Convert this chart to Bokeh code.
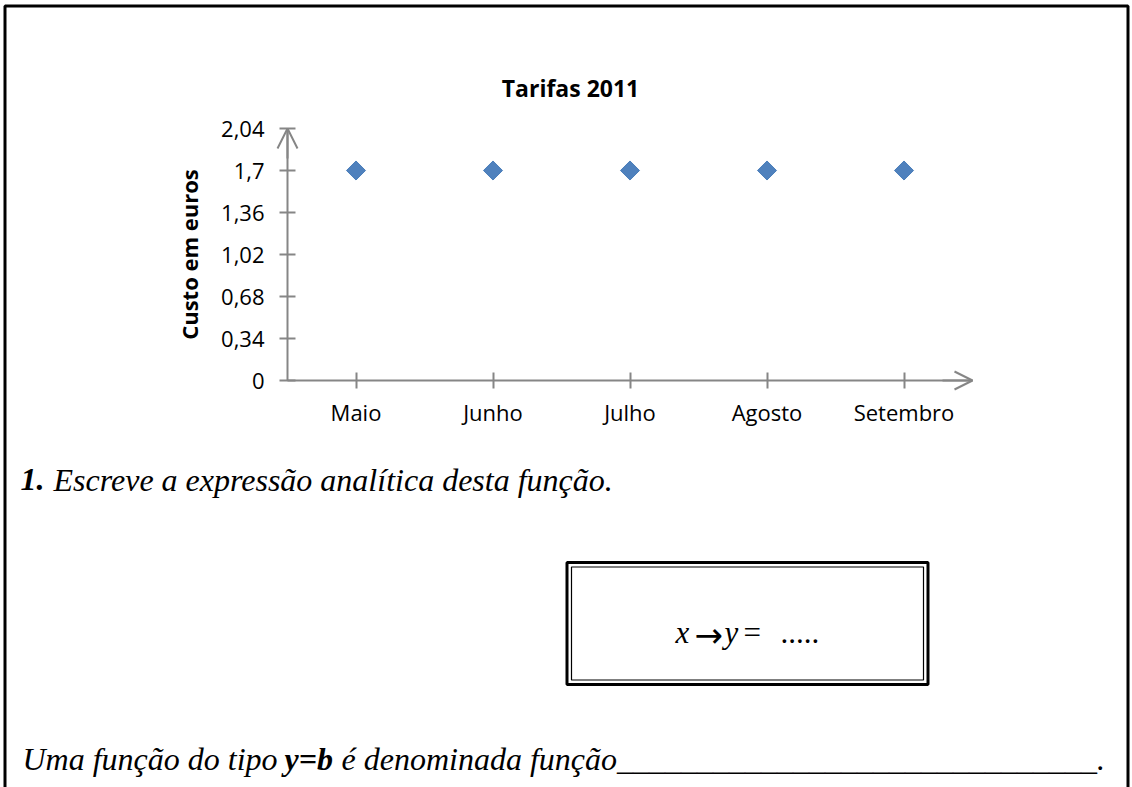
import math
from bokeh.plotting import figure
from bokeh.models import Range1d, FixedTicker, Label, BoxAnnotation, Arrow, OpenHead, LinearAxis
from bokeh.embed import file_html
from bokeh.resources import INLINE

# ---------------- data ----------------
chart_title = "Tarifas 2011"
months = ["Maio", "Junho", "Julho", "Agosto", "Setembro"]
cost = [1.7, 1.7, 1.7, 1.7, 1.7]
y_ticks = [0, 0.34, 0.68, 1.02, 1.36, 1.7, 2.04]
y_tick_labels = ["0", "0,34", "0,68", "1,02", "1,36", "1,7", "2,04"]
y_axis_label = "Custo em euros"
q_number = "1."
q_text = "Escreve a expressão analítica desta função."
box_parts = ["x", "\u2192", "y", "=", "....."]
final_a = "Uma função do tipo"
final_b = "y=b"
final_c = "é denominada função" + "_" * 30 + "."

# ---------------- layout (page pixels) ----------------
W, H = 1132, 787
FL, FR, FT, FB = 287, 972, 128, 380      # chart plot area
Y_MAX = 2.04
n = len(months)
ppc = (FR - FL) / n                       # pixels per category
ppu = (FB - FT) / Y_MAX                   # pixels per euro

p = figure(width=W, height=H, x_range=Range1d(0, W), y_range=Range1d(H, 0),
           x_axis_type=None, y_axis_type=None,
           output_backend="svg", toolbar_location=None, min_border=0)
p.outline_line_color = None
p.grid.visible = False
p.background_fill_color = "white"
p.border_fill_color = "white"

p.extra_x_ranges = {"chart": Range1d(-FL / ppc, (W - FL) / ppc)}
p.extra_y_ranges = {"chart": Range1d((FB - H) / ppu, FB / ppu)}

AX = "#868686"
x_pos = [i + 0.5 for i in range(n)]

xax = LinearAxis(x_range_name="chart", fixed_location=FB, bounds=(0, n),
                 ticker=FixedTicker(ticks=x_pos),
                 major_label_overrides={x: m for x, m in zip(x_pos, months)})
yax = LinearAxis(y_range_name="chart", fixed_location=FL, bounds=(0, Y_MAX),
                 ticker=FixedTicker(ticks=y_ticks),
                 major_label_overrides={t: s for t, s in zip(y_ticks, y_tick_labels)})
for ax in (xax, yax):
    ax.axis_line_color = AX
    ax.axis_line_width = 2
    ax.major_tick_line_color = AX
    ax.major_tick_line_width = 2
    ax.minor_tick_line_color = None
    ax.major_tick_in = 8
    ax.major_tick_out = 8
    ax.major_label_text_font = "Open Sans"
    ax.major_label_text_font_size = "22px"
    ax.major_label_text_color = "black"
xax.major_label_standoff = 8
yax.major_label_standoff = 15
yax.axis_label = y_axis_label
yax.axis_label_text_font = "Open Sans"
yax.axis_label_text_font_size = "22px"
yax.axis_label_text_font_style = "bold"
yax.axis_label_text_color = "black"
yax.axis_label_standoff = 14
p.add_layout(xax, "below")
p.add_layout(yax, "left")

# axis arrow heads
p.add_layout(Arrow(end=OpenHead(size=20, line_color=AX, line_width=2),
                   x_start=FL, y_start=FT + 30, x_end=FL, y_end=FT,
                   line_color=AX, line_width=2))
p.add_layout(Arrow(end=OpenHead(size=18, line_color=AX, line_width=2),
                   x_start=FR - 30, y_start=FB, x_end=FR, y_end=FB,
                   line_color=AX, line_width=2))

# data points
p.scatter(x=x_pos, y=cost, x_range_name="chart", y_range_name="chart",
          marker="square", angle=math.pi / 4, size=13.5,
          fill_color="#4F81BD", line_color="#4A7EBA", line_width=1)

# title
p.add_layout(Label(x=570, y=87, text=chart_title, text_align="center",
                   text_baseline="alphabetic", text_font="Open Sans",
                   text_font_style="bold", text_font_size="23px", text_color="black"))

# outer frame
p.add_layout(BoxAnnotation(left=4.5, right=1127.5, top=5.5, bottom=H + 20,
                           fill_color=None, line_color="black", line_alpha=1, line_width=3))

SERIF = "Liberation Serif"

def lab(px, py, text, style="italic", size="32px", font=SERIF):
    p.add_layout(Label(x=px, y=py, text=text, text_align="left",
                       text_baseline="alphabetic", text_font=font,
                       text_font_style=style, text_font_size=size, text_color="black"))

# question line
lab(20, 479, q_number, "bold italic")
lab(53, 479, q_text)

# double box
p.add_layout(BoxAnnotation(left=566.5, right=927.5, top=562, bottom=684,
                           fill_color=None, line_color="black", line_alpha=1, line_width=3))
p.add_layout(BoxAnnotation(left=571, right=923, top=566.5, bottom=679.5,
                           fill_color=None, line_color="black", line_alpha=1, line_width=1.2))
lab(675, 632, box_parts[0], "italic", "31px")
lab(694, 634, box_parts[1], "normal", "34px", "DejaVu Sans")
lab(724, 632, box_parts[2], "italic", "31px")
lab(743, 632, box_parts[3], "normal", "31px")
lab(780, 632, box_parts[4], "normal", "31px")

# final line
lab(22, 758, final_a)
lab(284, 758, final_b, "bold italic")
lab(341, 758, final_c)

open("out.html", "w").write(file_html(p, INLINE))
